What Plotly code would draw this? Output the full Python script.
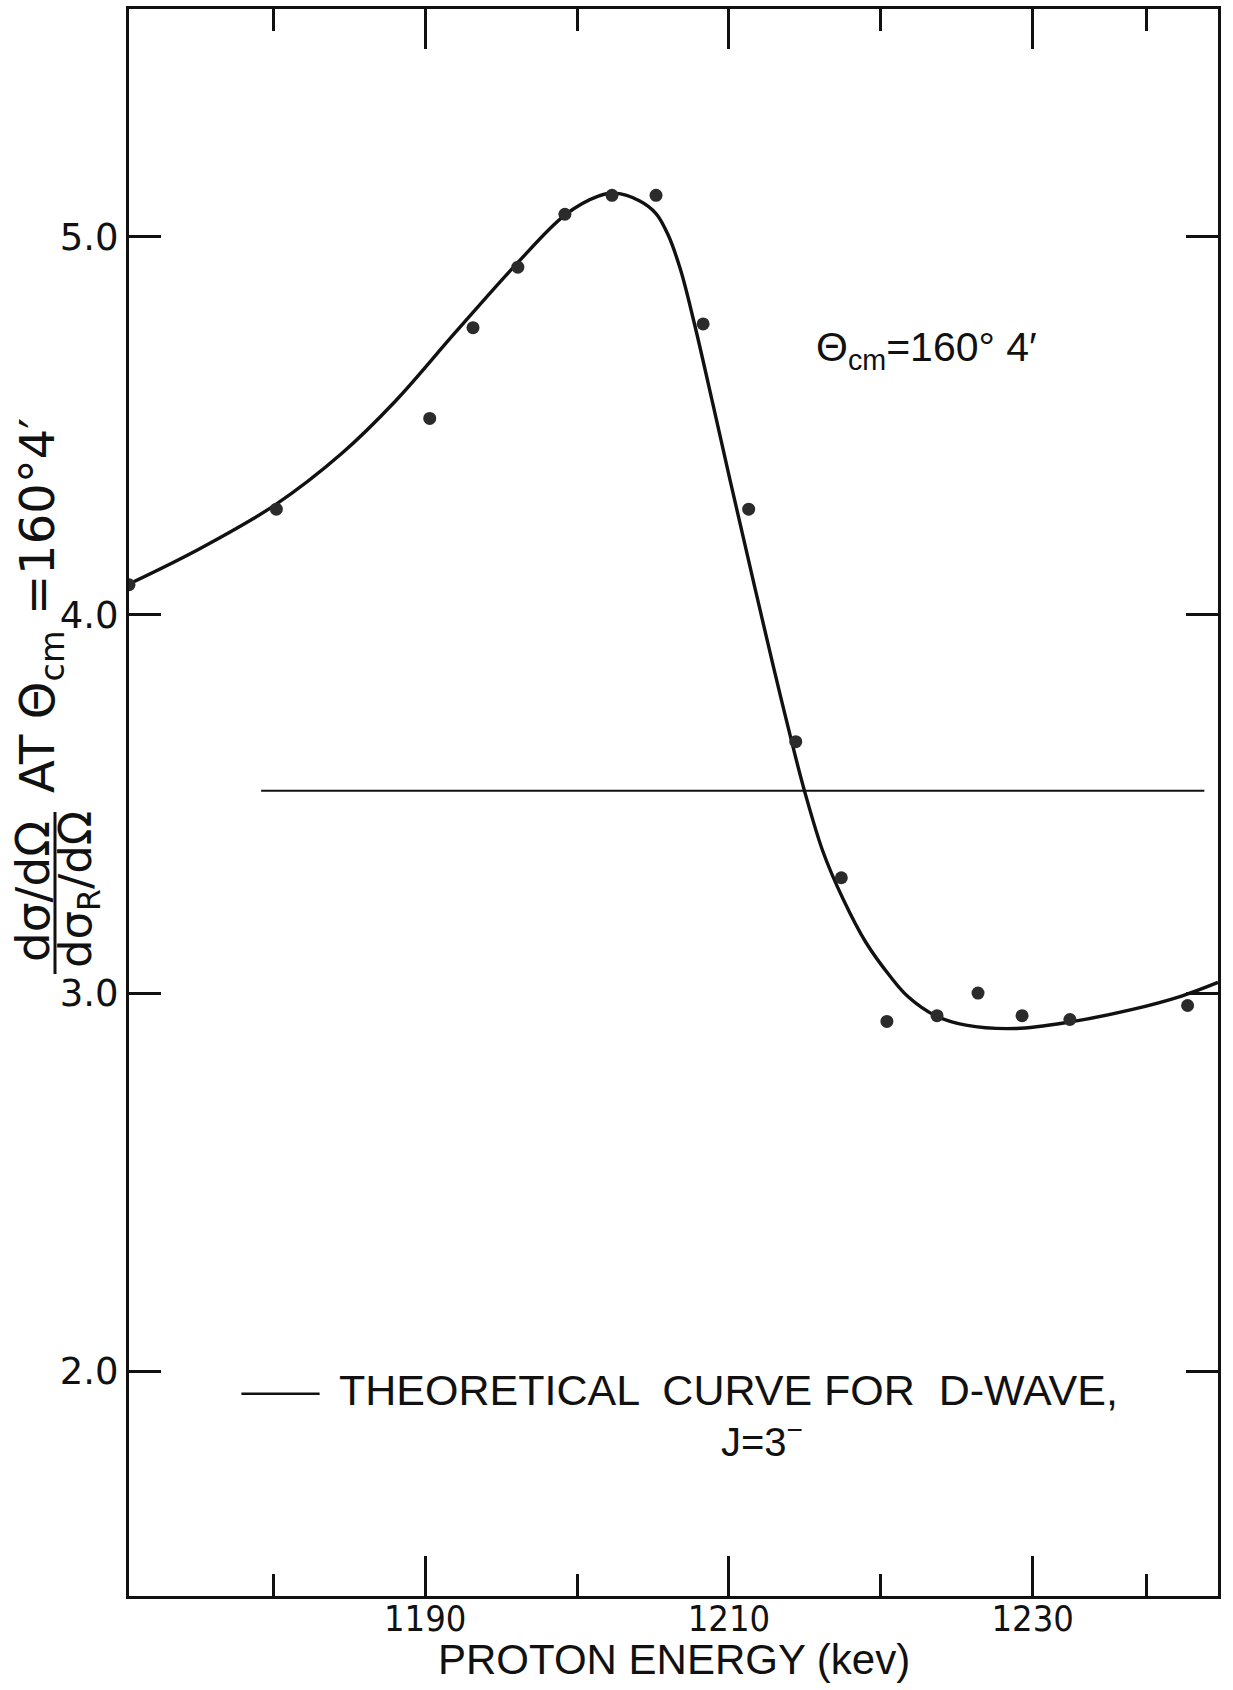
import plotly.graph_objects as go

# ---------------- data ----------------
energy_pts = [1170.5, 1180.2, 1190.3, 1193.15, 1196.1, 1199.2, 1202.3, 1205.2,
              1208.3, 1211.3, 1214.4, 1217.4, 1220.4, 1223.7, 1226.4, 1229.3,
              1232.45, 1240.2]
ratio_pts = [4.08, 4.28, 4.52, 4.76, 4.92, 5.06, 5.11, 5.11,
             4.77, 4.28, 3.665, 3.305, 2.925, 2.94, 3.00, 2.94,
             2.93, 2.967]

curve_energy = [1170.6, 1175.0, 1180.15, 1184.5, 1188.0, 1192.0, 1196.0, 1199.2,
                1201.4, 1202.5, 1204.1, 1205.2, 1206.0, 1206.8, 1207.7, 1209.0,
                1210.1, 1211.1, 1212.0, 1212.9, 1214.0, 1215.0, 1216.2, 1217.5,
                1219.0, 1220.6, 1221.8, 1223.6, 1225.6, 1228.85, 1232.4, 1236.5,
                1239.8, 1242.2]
curve_ratio = [4.084, 4.172, 4.292, 4.427, 4.564, 4.748, 4.928, 5.058,
               5.108, 5.116, 5.096, 5.062, 5.005, 4.915, 4.775, 4.548,
               4.352, 4.178, 4.022, 3.868, 3.686, 3.531, 3.373, 3.250,
               3.135, 3.045, 2.990, 2.940, 2.915, 2.906, 2.923, 2.956,
               2.992, 3.028]

hline_energy = [1179.2, 1241.3]
hline_ratio = [3.535, 3.535]

x_major = [1190, 1210, 1230]
x_major_labels = ["1190", "1210", "1230"]
x_minor = [1180, 1200, 1220, 1237.5]
y_ticks = [2.0, 3.0, 4.0, 5.0]
y_tick_labels = ["2.0", "3.0", "4.0", "5.0"]

# ---------------- figure ----------------
W, H = 1233, 1690
ML, MR, MT, MB = 129, 15, 9, 94
PW, PH = W - ML - MR, H - MT - MB


def px(xp):
    return (xp - ML) / PW


def py(yp):
    return 1 - (yp - MT) / PH


ROUND = "DejaVu Sans, Verdana, sans-serif"
PLAIN = "Liberation Sans, Arial, sans-serif"
NARROW = "Liberation Sans Narrow, DejaVu Sans Condensed, Arial Narrow, sans-serif"
INK = "#111111"

fig = go.Figure()

fig.add_trace(go.Scatter(
    x=curve_energy, y=curve_ratio, mode="lines",
    line=dict(color=INK, width=3.4, shape="spline", smoothing=1.0),
    hoverinfo="skip", showlegend=False))

fig.add_trace(go.Scatter(
    x=hline_energy, y=hline_ratio, mode="lines",
    line=dict(color=INK, width=2),
    hoverinfo="skip", showlegend=False))

fig.add_trace(go.Scatter(
    x=energy_pts, y=ratio_pts, mode="markers",
    marker=dict(color="#2b2b2b", size=13, line=dict(width=0)),
    showlegend=False))

axis_common = dict(
    showline=True, linecolor=INK, linewidth=3, mirror="ticks",
    ticks="inside", tickcolor=INK, tickwidth=3,
    showgrid=False, zeroline=False,
)

fig.update_xaxes(
    **axis_common,
    range=[1170.5, 1242.2],
    tickmode="array", tickvals=x_major, ticktext=x_major_labels, ticklen=40,
    tickfont=dict(family=NARROW, size=36, color=INK),
    ticklabelstandoff=-11,
    minor=dict(tickmode="array", tickvals=x_minor, ticks="inside",
               ticklen=22, tickwidth=3, tickcolor=INK, showgrid=False),
)
fig.update_yaxes(
    **axis_common,
    range=[1.405, 5.603],
    tickmode="array", tickvals=y_ticks, ticktext=y_tick_labels, ticklen=32,
    tickfont=dict(family=ROUND, size=37, color=INK),
)

annotations = [
    # x-axis title
    dict(x=px(674), y=py(1659), xref="paper", yref="paper",
         xanchor="center", yanchor="middle",
         text="PROTON ENERGY (kev)", showarrow=False,
         font=dict(family=PLAIN, size=42, color=INK)),
    # angle label inside the plot
    dict(x=1215.6, y=4.70, xref="x", yref="y", xanchor="left", yanchor="middle",
         text="Θ<sub>cm</sub>=160° 4′", showarrow=False,
         font=dict(family=PLAIN, size=41, color=INK)),
    # note
    dict(x=1184.2, y=1.95, xref="x", yref="y", xanchor="left", yanchor="middle",
         text="THEORETICAL  CURVE FOR  D-WAVE,", showarrow=False,
         font=dict(family=PLAIN, size=43, color=INK)),
    dict(x=1212.2, y=1.82, xref="x", yref="y", xanchor="center", yanchor="middle",
         text="J=3<sup>−</sup>", showarrow=False,
         font=dict(family=PLAIN, size=40, color=INK)),
    # y-axis label (fraction + rest), rotated
    dict(x=px(33), y=py(892), xref="paper", yref="paper",
         xanchor="center", yanchor="middle", textangle=-90,
         text="dσ/dΩ", showarrow=False,
         font=dict(family=ROUND, size=47, color=INK)),
    dict(x=px(78), y=py(890), xref="paper", yref="paper",
         xanchor="center", yanchor="middle", textangle=-90,
         text="dσ<sub>R</sub>/dΩ", showarrow=False,
         font=dict(family=ROUND, size=45, color=INK)),
    dict(x=px(40), y=py(606), xref="paper", yref="paper",
         xanchor="center", yanchor="middle", textangle=-90,
         text="AT Θ<sub>cm</sub> =160°4′", showarrow=False,
         font=dict(family=ROUND, size=48, color=INK)),
]

shapes = [
    # fraction bar of the y label
    dict(type="line", xref="paper", yref="paper",
         x0=px(55), x1=px(55), y0=py(812), y1=py(974),
         line=dict(color=INK, width=3)),
    # line sample in the note
    dict(type="line", xref="x", yref="y",
         x0=1177.9, x1=1183.05, y0=1.94, y1=1.94,
         line=dict(color=INK, width=2.5)),
]

fig.update_layout(
    width=W, height=H,
    margin=dict(l=ML, r=MR, t=MT, b=MB, autoexpand=False),
    paper_bgcolor="white", plot_bgcolor="white",
    annotations=annotations, shapes=shapes,
    showlegend=False,
)

fig.write_html("out.html")
